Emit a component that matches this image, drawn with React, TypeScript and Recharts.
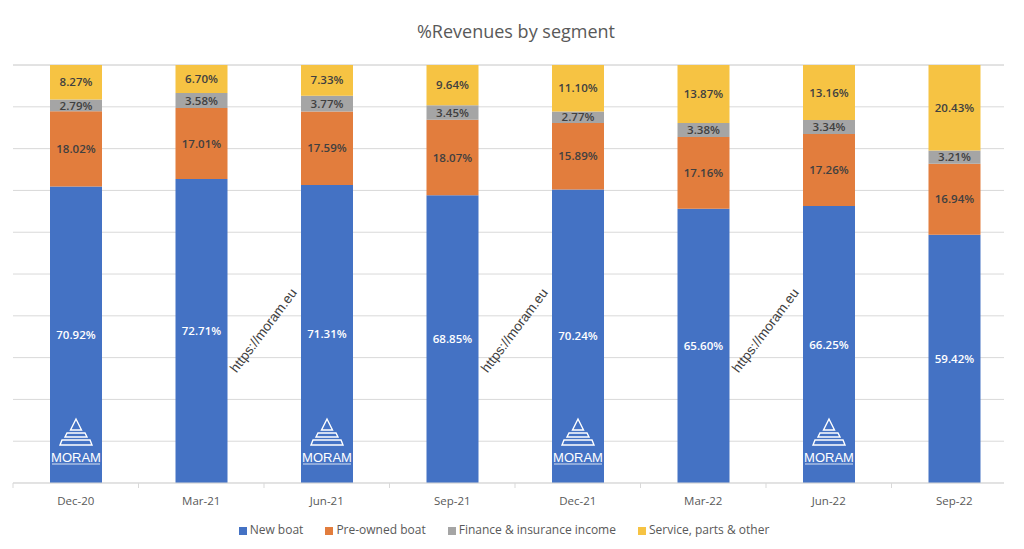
import React from "react";
import { BarChart, Bar, XAxis, YAxis, CartesianGrid, Legend, LabelList } from "recharts";

const categories = ["Dec-20", "Mar-21", "Jun-21", "Sep-21", "Dec-21", "Mar-22", "Jun-22", "Sep-22"];
const newBoat = [70.92, 72.71, 71.31, 68.85, 70.24, 65.6, 66.25, 59.42];
const preOwned = [18.02, 17.01, 17.59, 18.07, 15.89, 17.16, 17.26, 16.94];
const finance = [2.79, 3.58, 3.77, 3.45, 2.77, 3.38, 3.34, 3.21];
const service = [8.27, 6.7, 7.33, 9.64, 11.1, 13.87, 13.16, 20.43];
const seriesNames = ["New boat", "Pre-owned boat", "Finance & insurance income", "Service, parts & other"];
const yTicks = [0, 10, 20, 30, 40, 50, 60, 70, 80, 90, 100];
const logoIdx = [0, 2, 4, 6];
const watermarkIdx = [1, 3, 5];

const data = categories.map((c, i) => ({
  cat: c,
  newBoat: newBoat[i],
  preOwned: preOwned[i],
  finance: finance[i],
  service: service[i],
}));

const FONT = "'Open Sans', 'Liberation Sans', sans-serif";
const W = 1024;
const H = 549;
const M = { top: 65, right: 7, left: 13, bottom: 4 };
const BAND = (W - M.left - M.right) / categories.length;

const fmt = (v: any) => `${Number(v).toFixed(2)}%`;

const Tick = (props: any) => {
  const { x, y, payload, index } = props;
  const left = x - BAND / 2;
  return (
    <g>
      <line x1={left} x2={left} y1={y} y2={y + 5} stroke="#D9D9D9" />
      {index === categories.length - 1 ? (
        <line x1={x + BAND / 2} x2={x + BAND / 2} y1={y} y2={y + 5} stroke="#D9D9D9" />
      ) : null}
      <text x={x} y={y + 19} textAnchor="middle" dominantBaseline="middle" fill="#595959" fontSize={11.5} fontFamily={FONT}>
        {payload.value}
      </text>
    </g>
  );
};

const Deco = (props: any) => {
  const { x, y, width, height, index } = props;
  const b = Number(y) + Number(height);
  const cx = Number(x) + Number(width) / 2;
  if (logoIdx.includes(index)) {
    return (
      <g fill="none" stroke="#FFFFFF" strokeWidth={1.4}>
        <polygon points={`${cx},${b - 64} ${cx - 5.5},${b - 53} ${cx + 5.5},${b - 53}`} />
        <polygon points={`${cx - 9},${b - 50} ${cx + 9},${b - 50} ${cx + 11},${b - 46} ${cx - 11},${b - 46}`} />
        <polygon points={`${cx - 14},${b - 43} ${cx + 14},${b - 43} ${cx + 16},${b - 38} ${cx - 16},${b - 38}`} />
        <text x={cx} y={b - 21} textAnchor="middle" fill="#FFFFFF" stroke="none" fontSize={13} fontFamily="'Liberation Sans', Arial, sans-serif">
          MORAM
        </text>
        <line x1={cx - 24} x2={cx + 24} y1={b - 19} y2={b - 19} strokeWidth={0.8} />
      </g>
    );
  }
  if (watermarkIdx.includes(index)) {
    const wx = Number(x) + Number(width) / 2 + BAND / 2;
    const wy = b - 152;
    return (
      <text
        x={wx}
        y={wy}
        textAnchor="middle"
        dominantBaseline="middle"
        fill="#404040"
        fontSize={13.5}
        fontFamily="'Liberation Sans', Arial, sans-serif"
        transform={`rotate(-53 ${wx} ${wy})`}
      >
        https://moram.eu
      </text>
    );
  }
  return null;
};

const labelProps = { fontSize: 11.5, fontWeight: 600, fontFamily: FONT };

export default function App() {
  return (
    <div style={{ position: "absolute", left: 0, top: 0, width: 1004, height: H, overflow: "hidden", background: "#fff" }}>
      <div style={{ position: "relative", width: W, height: H }}>
        <div
          style={{
            position: "absolute",
            top: 19,
            left: 4,
            width: W,
            textAlign: "center",
            fontFamily: FONT,
            fontSize: 18,
            color: "#595959",
            zIndex: 2,
          }}
        >
          %Revenues by segment
        </div>
        <BarChart width={W} height={H} data={data} margin={M} barSize={52}>
          <CartesianGrid vertical={false} stroke="#D9D9D9" />
          <YAxis hide domain={[0, 100]} ticks={yTicks} />
          <XAxis
            dataKey="cat"
            height={38}
            tickLine={false}
            tickSize={0}
            tickMargin={0}
            axisLine={{ stroke: "#D9D9D9" }}
            tick={<Tick />}
            interval={0}
          />
          <Legend
            verticalAlign="bottom"
            height={24}
            iconType="square"
            iconSize={8}
            itemSorter={(item: any) => seriesNames.indexOf(item.value)}
            wrapperStyle={{ fontFamily: FONT, fontSize: 12 }}
            formatter={(v: any) => <span style={{ color: "#595959", marginLeft: -1, marginRight: 12 }}>{v}</span>}
          />
          <Bar dataKey="newBoat" name={seriesNames[0]} stackId="a" fill="#4472C4" isAnimationActive={false}>
            <LabelList dataKey="newBoat" position="center" formatter={fmt} fill="#FFFFFF" {...labelProps} />
            <LabelList dataKey="newBoat" content={<Deco />} />
          </Bar>
          <Bar dataKey="preOwned" name={seriesNames[1]} stackId="a" fill="#E27D3D" isAnimationActive={false}>
            <LabelList dataKey="preOwned" position="center" formatter={fmt} fill="#404040" {...labelProps} />
          </Bar>
          <Bar dataKey="finance" name={seriesNames[2]} stackId="a" fill="#A5A5A5" isAnimationActive={false}>
            <LabelList dataKey="finance" position="center" formatter={fmt} fill="#404040" {...labelProps} />
          </Bar>
          <Bar dataKey="service" name={seriesNames[3]} stackId="a" fill="#F6C343" isAnimationActive={false}>
            <LabelList dataKey="service" position="center" formatter={fmt} fill="#404040" {...labelProps} />
          </Bar>
        </BarChart>
      </div>
    </div>
  );
}
